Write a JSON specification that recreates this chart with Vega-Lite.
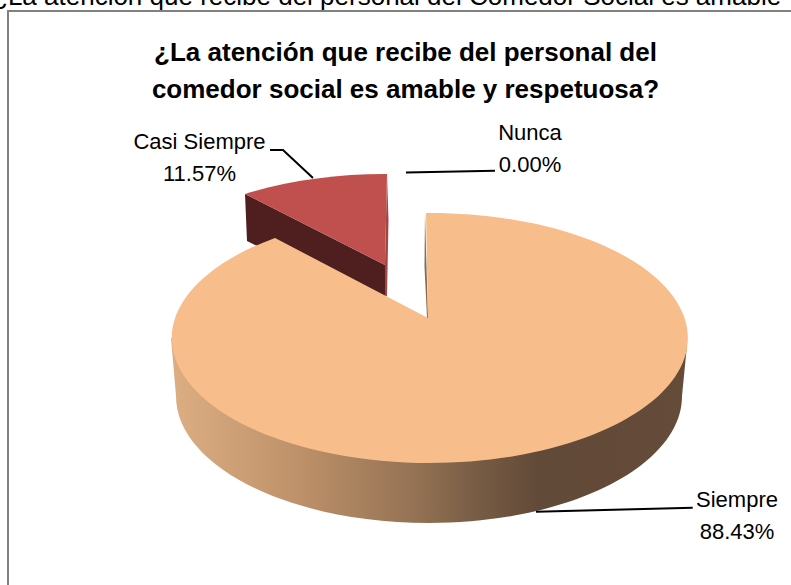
{
  "$schema": "https://vega.github.io/schema/vega-lite/v6.json",
  "width": 791, "height": 585, "padding": 0, "autosize": "none",
  "background": "white",
  "view": {"stroke": null},
  "config": {"font": "Liberation Sans"},
  "title": {
    "text": ["¿La atención que recibe del personal del", "comedor social es amable y respetuosa?"],
    "anchor": "middle", "frame": "group", "baseline": "top", "fontSize": 26, "fontWeight": "bold",
    "font": "Liberation Sans", "color": "#000000", "lineHeight": 37, "offset": -82, "dy": 37, "dx": 10
  },
  "data": {"values": [
    {"categoria": "Siempre", "proporcion": 0.8843},
    {"categoria": "Casi Siempre", "proporcion": 0.1157},
    {"categoria": "Nunca", "proporcion": 0.0}
  ]},
  "transform": [{"calculate": "datum.categoria + '\\n' + format(datum.proporcion, '.2%')", "as": "etiqueta"}],
  "layer": [
    {
      "transform": [{"filter": "datum.categoria === 'Nunca'"}],
      "mark": {"type": "text", "align": "left", "baseline": "alphabetic", "fontSize": 26, "font": "Liberation Sans", "color": "#000000"},
      "encoding": {"x": {"value": -8}, "y": {"value": 4.5}, "text": {"value": "¿La atención que recibe del personal del Comedor Social es amable"}}
    },
    {
      "transform": [{"filter": "datum.categoria === 'Nunca'"}],
      "mark": {"type": "point", "filled": false, "fill": null, "stroke": "#808080", "strokeWidth": 2, "opacity": 1, "size": 4},
      "encoding": {"x": {"value": 0}, "y": {"value": 0}, "shape": {"value": "M 8 600 L 8 11 L 800 11"}}
    },
    {
      "transform": [{"filter": "datum.categoria === 'Casi Siempre'"}],
      "mark": {"type": "point", "filled": true, "fill": "#4F1F1F", "opacity": 1, "size": 4},
      "encoding": {"x": {"value": 0}, "y": {"value": 0}, "shape": {"value": "M 245 194 L 385 265 L 385 296 L 300 260 L 255 245 L 247 241 Z"}}
    },
    {
      "transform": [{"filter": "datum.categoria === 'Casi Siempre'"}],
      "mark": {"type": "point", "filled": true, "fill": "#A34543", "opacity": 1, "size": 4},
      "encoding": {"x": {"value": 0}, "y": {"value": 0}, "shape": {"value": "M 387 174 L 388.5 220 L 387 296 L 385 296 L 385 265 Z"}}
    },
    {
      "transform": [{"filter": "datum.categoria === 'Casi Siempre'"}],
      "mark": {"type": "point", "filled": true, "fill": "#C0504D", "opacity": 1, "size": 4},
      "encoding": {"x": {"value": 0}, "y": {"value": 0}, "shape": {"value": "M 245 194 A 258 125 0 0 1 387 174 L 385 265 Z"}}
    },
    {
      "transform": [{"filter": "datum.categoria === 'Siempre'"}],
      "mark": {"type": "point", "filled": true, "opacity": 1, "size": 4,
        "fill": {"gradient": "linear", "x1": 0, "y1": 0, "x2": 1, "y2": 0, "stops": [
          {"offset": 0, "color": "#DDAE83"},
          {"offset": 0.25, "color": "#BD9169"},
          {"offset": 0.48, "color": "#937153"},
          {"offset": 0.58, "color": "#7A5E46"},
          {"offset": 0.71, "color": "#624A38"},
          {"offset": 1, "color": "#654B38"}
        ]}},
      "encoding": {"x": {"value": 0}, "y": {"value": 0}, "shape": {"value": "M 171 338 L 176 396 A 253 127 0 0 0 682 396 L 687 345 Z"}}
    },
    {
      "transform": [{"filter": "datum.categoria === 'Siempre'"}],
      "mark": {"type": "point", "filled": true, "fill": "#8A6A50", "opacity": 1, "size": 4},
      "encoding": {"x": {"value": 0}, "y": {"value": 0}, "shape": {"value": "M 425 213 L 424.5 267 L 427 318 L 428 318 Z"}}
    },
    {
      "transform": [{"filter": "datum.categoria === 'Siempre'"}],
      "mark": {"type": "point", "filled": true, "fill": "#F7BE8C", "opacity": 1, "size": 4},
      "encoding": {"x": {"value": 0}, "y": {"value": 0}, "shape": {"value": "M 426 213 A 258 125 0 1 1 275 238 L 428 318 Z"}}
    },
    {
      "transform": [{"filter": "datum.categoria === 'Casi Siempre'"}],
      "mark": {"type": "point", "filled": false, "fill": null, "stroke": "#000000", "strokeWidth": 2, "opacity": 1, "size": 4},
      "encoding": {"x": {"value": 0}, "y": {"value": 0}, "shape": {"value": "M 270 150 L 283 150 L 313 178"}}
    },
    {
      "transform": [{"filter": "datum.categoria === 'Nunca'"}],
      "mark": {"type": "point", "filled": false, "fill": null, "stroke": "#000000", "strokeWidth": 2, "opacity": 1, "size": 4},
      "encoding": {"x": {"value": 0}, "y": {"value": 0}, "shape": {"value": "M 406 172.6 L 495 170.7"}}
    },
    {
      "transform": [{"filter": "datum.categoria === 'Siempre'"}],
      "mark": {"type": "point", "filled": false, "fill": null, "stroke": "#000000", "strokeWidth": 2, "opacity": 1, "size": 4},
      "encoding": {"x": {"value": 0}, "y": {"value": 0}, "shape": {"value": "M 536 511.7 L 692.7 507.7"}}
    },
    {
      "transform": [{"filter": "datum.categoria === 'Casi Siempre'"}],
      "mark": {"type": "text", "align": "center", "baseline": "alphabetic", "lineBreak": "\n", "lineHeight": 32, "fontSize": 22, "font": "Liberation Sans", "color": "#000000"},
      "encoding": {"x": {"value": 199.5}, "y": {"value": 149}, "text": {"field": "etiqueta", "type": "nominal"}}
    },
    {
      "transform": [{"filter": "datum.categoria === 'Nunca'"}],
      "mark": {"type": "text", "align": "center", "baseline": "alphabetic", "lineBreak": "\n", "lineHeight": 32, "fontSize": 22, "font": "Liberation Sans", "color": "#000000"},
      "encoding": {"x": {"value": 530}, "y": {"value": 140}, "text": {"field": "etiqueta", "type": "nominal"}}
    },
    {
      "transform": [{"filter": "datum.categoria === 'Siempre'"}],
      "mark": {"type": "text", "align": "center", "baseline": "alphabetic", "lineBreak": "\n", "lineHeight": 32, "fontSize": 22, "font": "Liberation Sans", "color": "#000000"},
      "encoding": {"x": {"value": 737}, "y": {"value": 507}, "text": {"field": "etiqueta", "type": "nominal"}}
    }
  ]
}
